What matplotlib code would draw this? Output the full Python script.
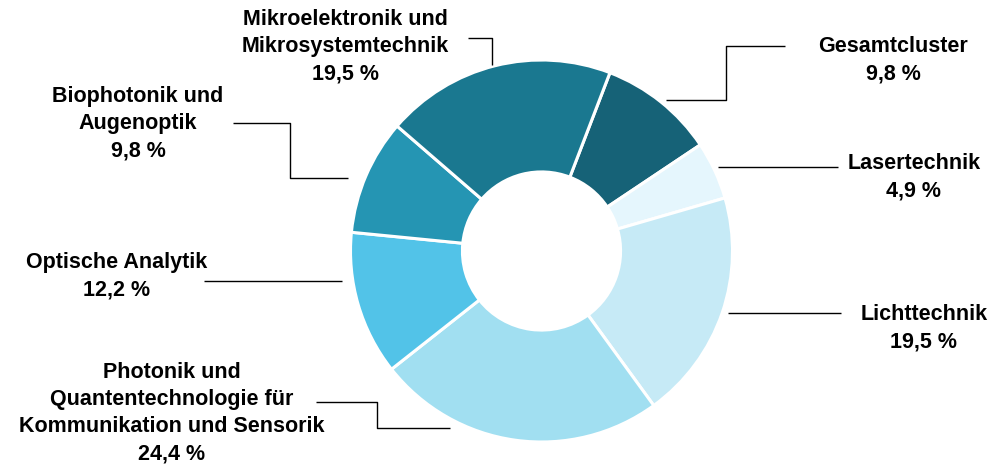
import matplotlib
matplotlib.use("Agg")
import matplotlib.pyplot as plt

# Shares of funded projects per technology field (percent), clockwise from the top-right
categories = [
    "Gesamtcluster",
    "Lasertechnik",
    "Lichttechnik",
    "Photonik und\nQuantentechnologie für\nKommunikation und Sensorik",
    "Optische Analytik",
    "Biophotonik und\nAugenoptik",
    "Mikroelektronik und\nMikrosystemtechnik",
]
values = [9.8, 4.9, 19.5, 24.4, 12.2, 9.8, 19.5]
colors = ["#166277", "#e5f6fd", "#c6eaf6", "#a1dff1", "#52c3e8", "#2595b3", "#1a7890"]

W, H = 1000, 465
fig = plt.figure(figsize=(W / 100, H / 100), dpi=100)
ax = fig.add_axes([0, 0, 1, 1])


def y(py):
    """Convert a top-down pixel row to the axes' bottom-up coordinate."""
    return H - py


cx, cy, R = 541.5, y(251), 191
ax.pie(
    values,
    colors=colors,
    startangle=69,
    counterclock=False,
    center=(cx, cy),
    radius=R,
    wedgeprops=dict(width=R * 0.586, edgecolor="white", linewidth=2.2),
    frame=True,
)
ax.set_xlim(0, W)
ax.set_ylim(0, H)
ax.set_aspect("equal")
ax.set_axis_off()

# Label anchor (centre x, centre y of text block) and leader-line paths
label_pos = [
    (893, 60),
    (914, 177),
    (924, 328),
    (172, 413),
    (117, 276),
    (138, 124),
    (345, 47),
]
leaders = [
    [(785, 46), (726, 46), (726, 100), (666, 100)],
    [(838, 167), (718, 167)],
    [(841, 313), (728, 313)],
    [(316, 402), (377, 402), (377, 428), (450, 428)],
    [(204, 281), (342, 281)],
    [(233, 123), (290, 123), (290, 178), (348, 178)],
    [(468, 38), (492, 38), (492, 65)],
]

font = dict(family=["Liberation Sans", "DejaVu Sans"], fontsize=15.5, fontweight="bold", color="black")

for name, val, (lx, ly), path in zip(categories, values, label_pos, leaders):
    text = f"{name}\n{val:.1f} %".replace(".", ",")
    ax.text(lx, y(ly), text, ha="center", va="center", linespacing=1.39, **font)
    xs = [p[0] for p in path]
    ys = [y(p[1]) for p in path]
    ax.plot(xs, ys, color="black", linewidth=1.0, solid_capstyle="butt")

fig.savefig("out.png", dpi=100, facecolor="white")
